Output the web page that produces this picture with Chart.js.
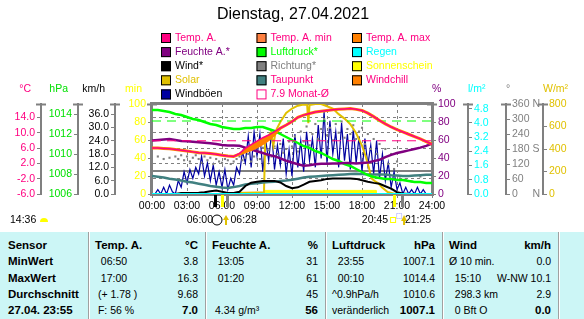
<!DOCTYPE html>
<html>
<head>
<meta charset="utf-8">
<script src="https://cdn.jsdelivr.net/npm/chart.js@4.4.1/dist/chart.umd.min.js"></script>
<style>
  body { margin: 0; background: #fff; font-family: "Liberation Sans", Arial, sans-serif; }
  #wrap { position: relative; width: 584px; height: 319px; overflow: hidden; }
  #tbl { position: absolute; left: 0; top: 232px; width: 584px; height: 87px; background: #ccf6f6; }
  .sep { position: absolute; top: 0; bottom: 0; width: 1px; background: #a0a0a0; border-right: 1px solid #fff; }
  .c { position: absolute; font-size: 10.5px; white-space: pre; line-height: 14px; color: #000; }
  .b { font-weight: bold; font-size: 11.5px; }
</style>
</head>
<body>
<div id="wrap">
  <canvas id="chart" width="584" height="232"></canvas>
  <div id="tbl"></div>
</div>
<script>
// ---- data ----
const titleText = 'Dienstag, 27.04.2021';

// 30 min steps, 00:00 .. 24:00
const halfHours = Array.from({length: 49}, (_, i) => i / 2);
// 15 min steps for the gusty stuff
const quarterHours = Array.from({length: 97}, (_, i) => i / 4);
const dayEnds = [0, 24];

const tempOut = [6.0,6.0,5.9,5.8,5.6,5.4,5.2,5.0,4.8,4.7,4.6,4.4,4.1,3.9,3.8,4.6,5.9,6.9,7.8,8.7,9.4,10.3,11.2,12.0,12.9,14.0,14.6,15.0,15.4,15.6,15.8,16.0,16.1,16.2,16.3,16.1,15.8,15.1,14.2,13.2,12.3,11.5,10.8,10.2,9.6,9.0,8.4,7.7,7.0];
const windchill = [6.0,6.0,5.9,5.8,5.6,5.4,5.2,5.0,4.8,4.7,4.6,4.4,4.1,3.9,3.8,4.4,5.0,5.6,6.3,7.2,8.2,9.6,11.2,12.0,12.9,14.0,14.6,15.0,15.4,15.6,15.8,16.0,16.1,16.2,16.3,16.1,15.8,15.1,14.2,13.2,12.3,11.5,10.8,10.2,9.6,9.0,8.4,7.7,7.0];
const humidity = [59.5,60,60.5,61,60,59,58.5,58,57.5,57,56.5,55.5,54.5,54,54,53.5,51.5,49.5,47.5,45.5,43.5,42,39.5,37,35,33,31.5,32,33,33.5,33.5,34,34,34.5,34.5,34,34.5,35,36.5,38,41,43.5,45.5,47,48.5,50,51.5,53.5,56];
const pressure = [1014.4,1014.4,1014.3,1014.2,1014.0,1013.9,1013.7,1013.5,1013.4,1013.2,1013.0,1012.9,1012.7,1012.6,1012.5,1012.5,1012.6,1012.6,1012.7,1012.7,1012.5,1012.3,1012.0,1011.7,1011.4,1011.1,1010.8,1010.6,1010.3,1010.1,1009.8,1009.5,1009.3,1009.0,1008.8,1008.5,1008.2,1007.9,1007.7,1007.6,1007.5,1007.5,1007.4,1007.4,1007.3,1007.2,1007.2,1007.1,1007.1];
const dewpoint = [-1.3,-1.5,-1.7,-2.0,-2.2,-2.5,-2.8,-3.0,-3.3,-3.6,-3.9,-4.1,-4.3,-4.4,-4.2,-3.9,-3.5,-3.3,-3.2,-3.0,-2.9,-2.8,-2.6,-2.5,-2.3,-2.0,-1.7,-1.5,-1.4,-1.3,-1.2,-1.1,-1.0,-0.9,-0.8,-0.7,-0.8,-0.9,-0.9,-0.9,-0.9,-1.1,-1.2,-1.3,-1.3,-1.2,-1.1,-1.0,-1.0];
const windAvg = [0,0,0,0,0,0.4,0.4,0.5,0.6,0.8,1.2,1.6,1.0,0.5,0.5,1.0,3.6,5.1,5.5,5.8,5.9,5.9,5.2,3.6,2.6,3.0,4.2,5.5,5.9,6.2,6.8,7.0,7.0,7.0,7.0,6.8,6.2,5.5,5.0,4.6,3.5,2.4,0.8,0.2,0,0,0,0,0];

const gusts = [0,0,2,0,3,0,4,1, 0,6,3,10, 5,11,7,12, 9,17,8,14, 6,13,4,10, 3,11,2,7, 4,12,9,19, 14,26,12,28, 17,27,10,24, 15,28,11,22, 13,25,9,20, 8,27,12,24, 10,28,15,25, 12,31,16,37, 14,33,18,28, 12,32,15,27, 11,29,14,26, 10,25,13,22, 9,24,7,18, 6,14,3,10, 2,5,0,3, 0,2,0,3, 0,2,0,0, 0];
const direction = [null,null,150,null,140,null,145,null, 150,140,155,135, 150,130,145,155, 140,125,150,135, 145,120,140,130, 125,140,135,120, 130,140,150,135, 145,160,130,150, 170,140,185,155, 175,150,190,160, 200,165,180,210, 190,230,170,250, 210,270,195,240, 280,220,260,300, 235,265,215,280, 245,290,225,260, 240,275,220,250, 265,200,240,180, 220,160,200,140, 180,120,160,100, 130,70,null,60, null,50,null,null, 70,null,null,null, null];

const solarTimes  = [0,6.2,6.5,7,8,9,9.6,9.7,10,10.2,10.4,10.6,11,11.5,12,12.5,13,13.3,13.4,13.5,14,14.5,15,15.5,16,16.5,17,17.5,18,18.3,18.6,18.8,19.1,19.4,19.7,20.2,20.7,21,24];
const solarValues = [0,0,5,8,11,14,16,470,520,550,430,560,640,720,760,785,795,790,630,790,800,800,780,760,710,670,620,540,430,340,230,140,115,95,60,18,4,0,0];

const sunshineTimes  = [9.64, 9.65, 19.2, 19.21];
const sunshineValues = [0, 4, 4, 0];

const rainValues = [0, 0];
const monthTemp = [7.9, 7.9];
const monthPress = [1013.3, 1013.3];
const zeroTemp = [0, 0];

// axis ticks
const xTicks = [0, 3, 6, 9, 12, 15, 18, 21, 24];
const tempTicks = [-6, -2, 2, 6, 10, 14];
const pressTicks = [1006, 1008, 1010, 1012, 1014];
const windTicks = [0, 6, 12, 18, 24, 30, 36];
const minTicks = [0, 20, 40, 60, 80, 100];
const humTicks = [0, 20, 40, 60, 80, 100];
const rainTicks = [0, 0.8, 1.6, 2.4, 3.2, 4.0, 4.8];
const dirTicks = [0, 60, 120, 180, 240, 300, 360];
const dirTickLabels = ['0     N', '60', '120', '180 S', '240', '300', '360 N'];
const solarTicks = [0, 200, 400, 600, 800];

const units = ['°C', 'hPa', 'km/h', 'min', '%', 'l/m²', '°', 'W/m²'];
const unitAxes = ['yTemp', 'yPress', 'yWind', 'yMin', 'yHum', 'yRain', 'yDir', 'ySolar'];
const unitColors = ['#FF0080', '#00E000', '#000000', '#FFFF00', '#800080', '#00FFFF', '#808080', '#E0C000'];

const legendNames = ['Temp. A.', 'Temp. A. min', 'Temp. A. max', 'Feuchte A.*', 'Luftdruck*', 'Regen', 'Wind*', 'Richtung*', 'Sonnenschein', 'Solar', 'Taupunkt', 'Windchill', 'Windböen', '7.9 Monat-Ø'];
const legendBoxes = ['#FF0080', '#FF8040', '#FF8000', '#800080', '#00FF00', '#00FFFF', '#000000', '#808080', '#FFFF00', '#E0C000', '#408080', '#FF8000', '#0000A0', null];
const legendTexts = ['#FF0080', '#FF0080', '#FF0080', '#800080', '#00FF00', '#00FFFF', '#000000', '#808080', '#FFFF00', '#E0C000', '#FF0080', '#FF0080', '#000000', '#FF0080'];

const dayLength = '14:36';
const sunMarkTimes = [5.43, 6.0, 6.47, 20.75, 21.42];
const sunMarkColors = ['#000000', '#FFFF00', '#808080', '#FFFF00', '#808080'];
const sunriseText = ['06:00', '06:28'];
const sunsetText = ['20:45', '21:25'];

const tableRows = [
  [['Sensor'], ['Temp. A.', '°C'], ['Feuchte A.', '%'], ['Luftdruck', 'hPa'], ['Wind', 'km/h']],
  [['MinWert'], ['  06:50', '3.8'], ['  13:05', '31'], ['  23:55', '1007.1'], ['Ø 10 min.', '0.0']],
  [['MaxWert'], ['  17:00', '16.3'], ['  01:20', '61'], ['  00:10', '1014.4'], ['  15:10', 'W-NW 10.1']],
  [['Durchschnitt'], [' (+ 1.78 )', '9.68'], ['', '45'], ['^0.9hPa/h', '1010.6'], ['  298.3 km', '2.9']],
  [['27.04. 23:55'], [' F: 56 %', '7.0'], [' 4.34 g/m³', '56'], ['veränderlich', '1007.1'], ['  0 Bft O', '0.0']]
];
const colEdges = [0, 88, 205, 325, 442, 558, 584];

// ---- helpers ----
const FONT = '"Liberation Sans", Arial, sans-serif';
const GRAY = '#808080';
const pts = (xs, ys) => xs.map((x, i) => ({x: x, y: ys[i]}));
const hh = v => (v < 10 ? '0' : '') + v + ':00';

function line(label, xs, ys, axis, color, width, extra) {
  return Object.assign({
    label: label, data: pts(xs, ys), yAxisID: axis,
    borderColor: color, backgroundColor: color, borderWidth: width,
    pointRadius: 0, tension: 0, fill: false
  }, extra || {});
}

function yAxis(pos, weight, width, min, max, ticks, color, fmt, chartGrid) {
  return {
    type: 'linear', position: pos, weight: weight, min: min, max: max, bounds: 'data',
    afterFit: s => { s.width = width; },
    afterBuildTicks: s => { s.ticks = ticks.map(v => ({value: v})); },
    ticks: { color: color, font: {family: FONT, size: 10.5}, padding: 2, autoSkip: false, callback: fmt },
    grid: { drawOnChartArea: !!chartGrid, color: GRAY, tickColor: GRAY, tickLength: 4 },
    border: { display: true, color: GRAY, width: 2, dash: chartGrid ? [3, 3] : [] }
  };
}

// frame, title, legend, units and sun times
const decor = {
  id: 'decor',
  beforeDatasetsDraw(chart) {
    const {ctx, chartArea: a} = chart;
    ctx.save();
    ctx.strokeStyle = GRAY;
    ctx.lineWidth = 3;
    ctx.strokeRect(a.left - 0.5, a.top - 0.5, a.right - a.left + 1, a.bottom - a.top + 1);
    // little caps on top of every value axis
    ctx.lineWidth = 2;
    unitAxes.forEach(id => {
      const s = chart.scales[id];
      const bx = s.position === 'left' ? s.right : s.left;
      ctx.beginPath();
      ctx.moveTo(bx - 5, a.top + 0.5);
      ctx.lineTo(bx + 5, a.top + 0.5);
      ctx.stroke();
    });
    ctx.restore();
  },
  afterDraw(chart) {
    const ctx = chart.ctx;
    const xs = chart.scales.x;
    ctx.save();
    ctx.textBaseline = 'middle';

    ctx.font = '16px ' + FONT;
    ctx.fillStyle = '#000';
    ctx.textAlign = 'center';
    ctx.fillText(titleText, 293, 15);

    ctx.font = '10.5px ' + FONT;
    ctx.textAlign = 'left';
    legendNames.forEach((name, i) => {
      const x = 161 + (i % 3) * 95.5;
      const y = 38 + Math.floor(i / 3) * 14.1;
      ctx.lineWidth = 1;
      if (legendBoxes[i]) {
        ctx.fillStyle = legendBoxes[i];
        ctx.fillRect(x, y - 5, 10, 10);
        ctx.strokeStyle = '#000';
      } else {
        ctx.strokeStyle = legendTexts[i];
      }
      ctx.strokeRect(x + 0.5, y - 4.5, 9, 9);
      ctx.fillStyle = legendTexts[i];
      ctx.fillText(name, x + 14, y);
    });

    units.forEach((u, i) => {
      const s = chart.scales[unitAxes[i]];
      ctx.fillStyle = unitColors[i];
      if (s.position === 'left') {
        ctx.textAlign = 'right';
        ctx.fillText(u, s.right - 10, 89);
      } else {
        ctx.textAlign = 'left';
        ctx.fillText(u, s.left, 89);
      }
    });

    // sunrise / sunset marks under the time axis
    sunMarkTimes.forEach((t, i) => {
      ctx.fillStyle = sunMarkColors[i];
      ctx.fillRect(Math.round(xs.getPixelForValue(t)) - 1, 195, 3, 12);
    });

    const yT = 220;
    ctx.fillStyle = '#000';
    ctx.textAlign = 'left';
    ctx.fillText(dayLength, 10, yT);
    ctx.fillStyle = '#FFFF00';
    ctx.beginPath();
    ctx.arc(44, yT + 2, 4, Math.PI, 0);
    ctx.fill();

    const rise = xs.getPixelForValue(sunMarkTimes[1]);
    ctx.fillStyle = '#000';
    ctx.textAlign = 'right';
    ctx.fillText(sunriseText[0], rise - 9, yT);
    ctx.strokeStyle = '#000';
    ctx.lineWidth = 1;
    ctx.beginPath();
    ctx.arc(rise - 5, yT, 5, 0, Math.PI * 2);
    ctx.stroke();
    ctx.textAlign = 'left';
    ctx.fillText(sunriseText[1], xs.getPixelForValue(sunMarkTimes[2]) + 3, yT);
    ctx.fillStyle = '#E0C000';
    ctx.beginPath();
    ctx.moveTo(rise + 1, yT); ctx.lineTo(rise + 4, yT - 5); ctx.lineTo(rise + 7, yT);
    ctx.fill();
    ctx.fillRect(rise + 3, yT, 2, 5);

    const set = xs.getPixelForValue(sunMarkTimes[3]);
    ctx.fillStyle = '#000';
    ctx.textAlign = 'right';
    ctx.fillText(sunsetText[0], set - 6, yT);
    ctx.strokeStyle = '#FFFF00';
    ctx.strokeRect(set - 3.5, yT - 2.5, 5, 5);
    ctx.strokeStyle = '#A0A0FF';
    ctx.setLineDash([1, 1]);
    ctx.strokeRect(set + 2.5, yT - 6.5, 5, 5);
    ctx.setLineDash([]);
    ctx.fillStyle = '#E0C000';
    ctx.beginPath();
    ctx.moveTo(set + 7, yT + 1); ctx.lineTo(set + 10, yT - 5); ctx.lineTo(set + 13, yT + 1);
    ctx.fill();
    ctx.fillRect(set + 9, yT + 1, 2, 4);
    ctx.fillStyle = '#000';
    ctx.textAlign = 'left';
    ctx.fillText(sunsetText[1], xs.getPixelForValue(sunMarkTimes[4]) + 3, yT);
    ctx.restore();
  }
};

new Chart(document.getElementById('chart'), {
  type: 'line',
  data: {
    datasets: [
      line('Regen', dayEnds, rainValues, 'yRain', '#00FFFF', 2),
      line('Temp. A.', halfHours, tempOut, 'yTemp', '#FF0080', 1.5),
      line('Windchill', halfHours, windchill, 'yTemp', '#FF8000', 3, {fill: '-1', backgroundColor: '#FF8000'}),
      line('7.9 Monat-Ø', dayEnds, monthTemp, 'yTemp', '#FF0080', 1, {borderDash: [9, 6]}),
      line('Luftdruck Monat', dayEnds, monthPress, 'yPress', '#00FF00', 1, {borderDash: [9, 6]}),
      line('Feuchte A.*', halfHours, humidity, 'yHum', '#800080', 2.5),
      line('Luftdruck*', halfHours, pressure, 'yPress', '#00FF00', 2.5),
      line('Wind*', halfHours, windAvg, 'yWind', '#000000', 2),
      line('Taupunkt', halfHours, dewpoint, 'yTemp', '#408080', 2.5),
      line('Solar', solarTimes, solarValues, 'ySolar', '#E0C000', 2),
      line('Sonnenschein', sunshineTimes, sunshineValues, 'yMin', '#FFFF00', 1, {fill: 'origin'}),
      line('Richtung*', quarterHours, direction, 'yDir', GRAY, 0, {showLine: false, pointRadius: 1.5, pointStyle: 'rect', pointBorderWidth: 0}),
      line('Windböen', quarterHours, gusts, 'yWind', '#0000A0', 1.2),
      line('0 °C', dayEnds, zeroTemp, 'yTemp', GRAY, 2)
    ]
  },
  options: {
    responsive: false,
    animation: false,
    devicePixelRatio: 1,
    layout: { padding: { top: 104, left: 0, right: 0, bottom: 0 } },
    plugins: { legend: { display: false }, tooltip: { enabled: false } },
    scales: {
      x: {
        type: 'linear', min: 0, max: 24, bounds: 'data',
        afterFit: s => { s.height = 38; },
        afterBuildTicks: s => { s.ticks = xTicks.map(v => ({value: v})); },
        ticks: { color: '#000', font: {family: FONT, size: 10.5}, padding: 2, maxRotation: 0, autoSkip: false, callback: v => hh(v) },
        grid: { color: GRAY, tickColor: GRAY, tickLength: 4 },
        border: { display: false, dash: [3, 3] }
      },
      yTemp: yAxis('left', 4, 41, -6, 17.5, tempTicks, '#FF0080', v => v.toFixed(1), true),
      yPress: yAxis('left', 3, 37, 1006, 1015, pressTicks, '#00E000', v => String(v)),
      yWind: yAxis('left', 2, 37, 0, 40.5, windTicks, '#000000', v => v.toFixed(1)),
      yMin: yAxis('left', 1, 37, 0, 100, minTicks, '#FFFF00', v => String(v)),
      yHum: yAxis('right', 1, 36, 0, 100, humTicks, '#800080', v => String(v)),
      yRain: yAxis('right', 2, 38, 0, 5.06, rainTicks, '#00FFFF', v => v.toFixed(1)),
      yDir: yAxis('right', 3, 37, 0, 360, dirTicks, GRAY, v => dirTickLabels[dirTicks.indexOf(v)]),
      ySolar: yAxis('right', 4, 41, 0, 800, solarTicks, '#E0C000', v => String(v))
    }
  },
  plugins: [decor]
});

// ---- value table below the chart ----
const tbl = document.getElementById('tbl');
for (let c = 1; c < colEdges.length - 1; c++) {
  const sep = document.createElement('div');
  sep.className = 'sep';
  sep.style.left = colEdges[c] + 'px';
  tbl.appendChild(sep);
}
tableRows.forEach((row, r) => {
  const top = 13 + r * 16.3 - 7;
  row.forEach((cell, c) => {
    const bold = r === 0 || c === 0;
    if (cell[0]) {
      const d = document.createElement('div');
      d.className = 'c' + (bold ? ' b' : '');
      d.style.top = top + 'px';
      d.style.left = (colEdges[c] + (c === 0 ? 8 : 7)) + 'px';
      d.textContent = cell[0];
      tbl.appendChild(d);
    }
    if (cell[1]) {
      const d = document.createElement('div');
      d.className = 'c' + (bold || r === tableRows.length - 1 ? ' b' : '');
      d.style.top = top + 'px';
      d.style.right = (584 - colEdges[c + 1] + 7) + 'px';
      d.textContent = cell[1];
      tbl.appendChild(d);
    }
  });
});
</script>
</body>
</html>
